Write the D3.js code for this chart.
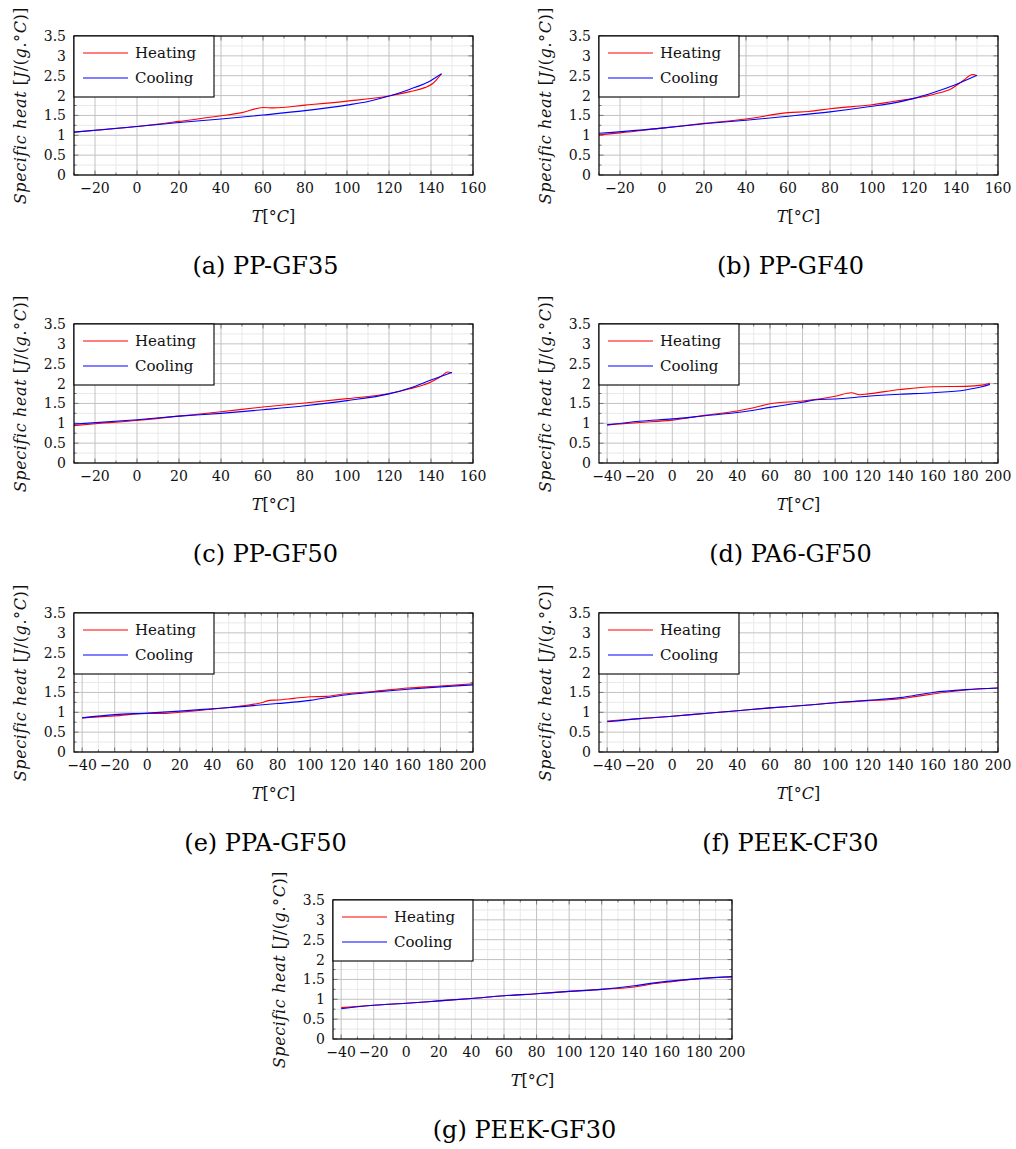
<!DOCTYPE html>
<html>
<head>
<meta charset="utf-8">
<script src="https://cdn.jsdelivr.net/npm/d3@7"></script>
<style>
 body { margin: 0; background: #fff; }
 svg { display: block; }
</style>
</head>
<body>
<div id="chart"></div>
<script>
// ---- data ----
// [temperature in degC, specific heat in J/(g.degC)]
const ppgf35Heating = [[-30,1.08],[0,1.22],[20,1.35],[40,1.49],[50,1.57],[60,1.70],[65,1.69],[80,1.76],[100,1.86],[120,1.99],[130,2.10],[137,2.20],[141,2.31],[143,2.42],[145,2.55]];
const ppgf35Cooling = [[-30,1.08],[0,1.22],[20,1.32],[40,1.41],[60,1.51],[80,1.62],[100,1.76],[110,1.85],[120,1.99],[130,2.16],[140,2.38],[145,2.55]];

const ppgf40Heating = [[-30,1.01],[-20,1.06],[0,1.18],[20,1.30],[40,1.41],[60,1.57],[70,1.60],[80,1.67],[100,1.77],[110,1.85],[120,1.93],[130,2.04],[138,2.18],[143,2.36],[148,2.53],[150,2.50]];
const ppgf40Cooling = [[-30,1.05],[0,1.18],[20,1.29],[40,1.38],[60,1.48],[80,1.59],[100,1.73],[110,1.81],[120,1.93],[130,2.09],[140,2.28],[150,2.51]];

const ppgf50Heating = [[-30,0.94],[-20,0.99],[0,1.07],[20,1.18],[40,1.29],[60,1.41],[80,1.51],[100,1.62],[120,1.75],[130,1.87],[140,2.04],[145,2.19],[148,2.29],[150,2.27]];
const ppgf50Cooling = [[-30,0.98],[0,1.09],[20,1.18],[40,1.25],[60,1.34],[80,1.44],[100,1.57],[120,1.74],[130,1.89],[140,2.09],[150,2.28]];

const pa6gf50Heating = [[-40,0.96],[-20,1.02],[0,1.08],[20,1.20],[40,1.31],[50,1.39],[60,1.49],[80,1.56],[100,1.68],[110,1.77],[115,1.72],[120,1.74],[140,1.85],[160,1.92],[180,1.93],[190,1.96],[195,2.01]];
const pa6gf50Cooling = [[-40,0.96],[-20,1.05],[0,1.11],[20,1.19],[40,1.27],[60,1.40],[80,1.53],[90,1.60],[100,1.61],[120,1.68],[140,1.73],[160,1.77],[180,1.84],[190,1.92],[195,1.98]];

const ppagf50Heating = [[-40,0.86],[-20,0.91],[0,0.97],[10,0.97],[20,1.00],[40,1.08],[60,1.17],[70,1.24],[75,1.30],[80,1.31],[90,1.35],[100,1.39],[110,1.40],[120,1.46],[140,1.53],[160,1.61],[180,1.66],[200,1.72]];
const ppagf50Cooling = [[-40,0.86],[-20,0.94],[0,0.98],[20,1.03],[40,1.09],[60,1.15],[80,1.22],[100,1.30],[120,1.43],[140,1.51],[160,1.58],[180,1.64],[200,1.69]];

const peekcf30Heating = [[-40,0.78],[-20,0.84],[0,0.90],[20,0.97],[40,1.04],[60,1.11],[80,1.17],[100,1.24],[120,1.29],[140,1.34],[150,1.40],[160,1.46],[180,1.56],[200,1.61]];
const peekcf30Cooling = [[-40,0.76],[-20,0.84],[0,0.90],[20,0.97],[40,1.04],[60,1.11],[80,1.17],[100,1.24],[120,1.30],[140,1.37],[160,1.50],[180,1.57],[200,1.61]];

const peekgf30Heating = [[-40,0.79],[-20,0.85],[0,0.90],[20,0.96],[40,1.02],[60,1.09],[80,1.14],[100,1.20],[120,1.25],[140,1.31],[145,1.34],[150,1.38],[160,1.43],[180,1.52],[200,1.56]];
const peekgf30Cooling = [[-40,0.76],[-20,0.85],[0,0.90],[20,0.96],[40,1.02],[60,1.09],[80,1.14],[100,1.20],[120,1.25],[140,1.34],[150,1.40],[160,1.45],[180,1.52],[200,1.57]];

// axis ranges and tick labels
const tempRangePP = [-30, 160];
const tempRangeHigh = [-45, 200];
const tempTicksPP = [-20, 0, 20, 40, 60, 80, 100, 120, 140, 160];
const tempTicksHigh = [-40, -20, 0, 20, 40, 60, 80, 100, 120, 140, 160, 180, 200];
const cpRange = [0, 3.5];
const cpTicks = [0, 0.5, 1, 1.5, 2, 2.5, 3, 3.5];
const seriesNames = ['Heating', 'Cooling'];
const seriesColors = ['#ff0000', '#0000ff'];

const panels = [
 {caption: '(a) PP-GF35',   heat: ppgf35Heating,   cool: ppgf35Cooling,   range: tempRangePP,   ticks: tempTicksPP},
 {caption: '(b) PP-GF40',   heat: ppgf40Heating,   cool: ppgf40Cooling,   range: tempRangePP,   ticks: tempTicksPP},
 {caption: '(c) PP-GF50',   heat: ppgf50Heating,   cool: ppgf50Cooling,   range: tempRangePP,   ticks: tempTicksPP},
 {caption: '(d) PA6-GF50',  heat: pa6gf50Heating,  cool: pa6gf50Cooling,  range: tempRangeHigh, ticks: tempTicksHigh},
 {caption: '(e) PPA-GF50',  heat: ppagf50Heating,  cool: ppagf50Cooling,  range: tempRangeHigh, ticks: tempTicksHigh},
 {caption: '(f) PEEK-CF30', heat: peekcf30Heating, cool: peekcf30Cooling, range: tempRangeHigh, ticks: tempTicksHigh},
 {caption: '(g) PEEK-GF30', heat: peekgf30Heating, cool: peekgf30Cooling, range: tempRangeHigh, ticks: tempTicksHigh}
];

// ---- layout ----
const W = 1016, H = 1149;
const plotW = 399, plotH = 139;
// top-left corner of each plot box
const origins = [[74, 36], [599, 36], [74, 324], [599, 324], [74, 613], [599, 613], [333, 900]];
const serif = "'DejaVu Serif', 'Liberation Serif', serif";

const svg = d3.select('#chart').append('svg')
 .attr('width', W).attr('height', H)
 .style('font-family', serif);

panels.forEach(function(p, i)
{
 const g = svg.append('g').attr('transform', 'translate(' + origins[i][0] + ',' + origins[i][1] + ')');
 const x = d3.scaleLinear().domain(p.range).range([0, plotW]);
 const y = d3.scaleLinear().domain(cpRange).range([plotH, 0]);

 // minor and major grid
 const xMinor = d3.range(Math.ceil(p.range[0] / 10) * 10, p.range[1] + 1, 10);
 const yMinor = d3.range(0, 3.5001, 0.25);
 const grid = g.append('g');
 grid.selectAll('.vminor').data(xMinor.filter(d => d % 20 !== 0)).join('line')
  .attr('x1', d => x(d)).attr('x2', d => x(d)).attr('y1', 0).attr('y2', plotH)
  .attr('stroke', '#e9e9e9').attr('stroke-width', 1);
 grid.selectAll('.hminor').data(yMinor.filter(d => Math.round(d * 4) % 2 === 1)).join('line')
  .attr('x1', 0).attr('x2', plotW).attr('y1', d => y(d)).attr('y2', d => y(d))
  .attr('stroke', '#e9e9e9').attr('stroke-width', 1);
 grid.selectAll('.vmajor').data(p.ticks).join('line')
  .attr('x1', d => x(d)).attr('x2', d => x(d)).attr('y1', 0).attr('y2', plotH)
  .attr('stroke', '#c2c2c2').attr('stroke-width', 1);
 grid.selectAll('.hmajor').data(cpTicks).join('line')
  .attr('x1', 0).attr('x2', plotW).attr('y1', d => y(d)).attr('y2', d => y(d))
  .attr('stroke', '#c2c2c2').attr('stroke-width', 1);

 // tick marks inside the frame, on all four sides
 const ticks = g.append('g').attr('stroke', '#777').attr('stroke-width', 1);
 xMinor.forEach(function(d)
 {
  const len = (d % 20 === 0) ? 4.5 : 2.5;
  ticks.append('line').attr('x1', x(d)).attr('x2', x(d)).attr('y1', plotH).attr('y2', plotH - len);
  ticks.append('line').attr('x1', x(d)).attr('x2', x(d)).attr('y1', 0).attr('y2', len);
 });
 yMinor.forEach(function(d)
 {
  const len = (Math.round(d * 4) % 2 === 0) ? 4.5 : 2.5;
  ticks.append('line').attr('x1', 0).attr('x2', len).attr('y1', y(d)).attr('y2', y(d));
  ticks.append('line').attr('x1', plotW).attr('x2', plotW - len).attr('y1', y(d)).attr('y2', y(d));
 });

 // curves
 const line = d3.line().curve(d3.curveMonotoneX).x(d => x(d[0])).y(d => y(d[1]));
 [p.heat, p.cool].forEach(function(s, k)
 {
  g.append('path').datum(s).attr('d', line)
   .attr('fill', 'none').attr('stroke', seriesColors[k]).attr('stroke-width', 1.1)
   .attr('stroke-linejoin', 'round');
 });

 // frame
 g.append('rect').attr('width', plotW).attr('height', plotH)
  .attr('fill', 'none').attr('stroke', '#000').attr('stroke-width', 1.2);

 // tick labels
 g.selectAll('.xlab').data(p.ticks).join('text')
  .attr('x', d => x(d)).attr('y', plotH + 18)
  .attr('text-anchor', 'middle').attr('font-size', 14).attr('fill', '#111')
  .text(d => d < 0 ? '\u2212' + Math.abs(d) : String(d));
 g.selectAll('.ylab').data(cpTicks).join('text')
  .attr('x', -8).attr('y', d => y(d) + 5)
  .attr('text-anchor', 'end').attr('font-size', 14).attr('fill', '#111')
  .text(d => String(d));

 // axis titles
 const xt = g.append('text').attr('x', plotW / 2).attr('y', plotH + 47)
  .attr('text-anchor', 'middle').attr('font-size', 16).attr('fill', '#111');
 xt.append('tspan').attr('font-style', 'italic').text('T');
 xt.append('tspan').text('[\u00b0');
 xt.append('tspan').attr('font-style', 'italic').text('C');
 xt.append('tspan').text(']');

 const yt = g.append('text')
  .attr('transform', 'translate(-48,' + (plotH / 2) + ') rotate(-90)')
  .attr('text-anchor', 'middle').attr('font-size', 16).attr('letter-spacing', 0.6)
  .attr('fill', '#111');
 yt.append('tspan').attr('font-style', 'italic').text('Specific heat ');
 yt.append('tspan').text('[');
 yt.append('tspan').attr('font-style', 'italic').text('J');
 yt.append('tspan').text('/(');
 yt.append('tspan').attr('font-style', 'italic').text('g');
 yt.append('tspan').text('.\u00b0');
 yt.append('tspan').attr('font-style', 'italic').text('C');
 yt.append('tspan').text(')]');

 // legend, top-left corner of the plot
 const lg = g.append('g');
 lg.append('rect').attr('width', 140).attr('height', 61)
  .attr('fill', '#fff').attr('stroke', '#000').attr('stroke-width', 1.1);
 seriesNames.forEach(function(name, k)
 {
  const ly = 17 + k * 25;
  lg.append('line').attr('x1', 9).attr('x2', 54).attr('y1', ly).attr('y2', ly)
   .attr('stroke', seriesColors[k]).attr('stroke-width', 1.1);
  lg.append('text').attr('x', 61).attr('y', ly + 5).attr('font-size', 15).attr('fill', '#111')
   .text(name);
 });

 // caption under the subfigure
 g.append('text').attr('x', plotW / 2 - 8).attr('y', plotH + 99)
  .attr('text-anchor', 'middle').attr('font-size', 24).attr('fill', '#000')
  .text(p.caption);
});
</script>
</body>
</html>
